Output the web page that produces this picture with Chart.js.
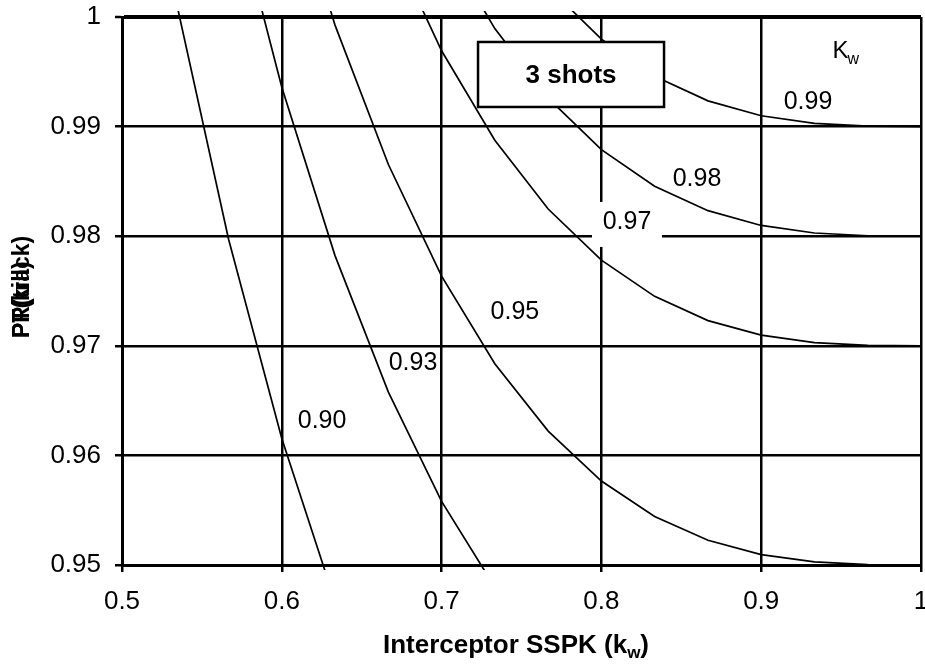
<!DOCTYPE html>
<html>
<head>
<meta charset="utf-8">
<script src="https://cdn.jsdelivr.net/npm/chart.js@4.4.1/dist/chart.umd.min.js"></script>
<style>
  html, body { margin: 0; padding: 0; background: #ffffff; }
  canvas { display: block; }
</style>
</head>
<body>
<canvas id="chart" width="925" height="668"></canvas>
<script>
// Interceptor single-shot kill probability (x axis)
const kwValues = [0.5, 0.5333, 0.5667, 0.6, 0.6333, 0.6667, 0.7, 0.7333, 0.7667, 0.8, 0.8333, 0.8667, 0.9, 0.9333, 0.9667, 1.0];

// Required probability for each K_w contour (3 shots); null = off the chart
const curve090 = [null, 1.00181, 0.97972, 0.96154, 0.94667, null, null, null, null, null, null, null, null, null, null, null];
const curve093 = [null, null, 1.01238, 0.99359, 0.97823, 0.96577, 0.95580, 0.94798, null, null, null, null, null, null, null, null];
const curve095 = [null, null, null, 1.01496, 0.99926, 0.98654, 0.97636, 0.96836, 0.96222, 0.95766, 0.95442, 0.95226, 0.95095, 0.95028, 0.95004, 0.95];
const curve097 = [null, null, null, null, null, 1.00731, 0.99692, 0.98875, 0.98248, 0.97782, 0.97451, 0.97230, 0.97097, 0.97029, 0.97004, 0.97];
const curve098 = [null, null, null, null, null, null, 1.00719, 0.99894, 0.99260, 0.98790, 0.98456, 0.98233, 0.98098, 0.98029, 0.98004, 0.98];
const curve099 = [null, null, null, null, null, null, null, null, 1.00273, 0.99798, 0.99460, 0.99235, 0.99099, 0.99029, 0.99004, 0.99];

const curveLabels = ['0.90', '0.93', '0.95', '0.97', '0.98', '0.99'];

const xTickValues = [0.5, 0.6, 0.7, 0.8, 0.9, 1.0];
const xTickLabels = ['0.5', '0.6', '0.7', '0.8', '0.9', '1'];
const yTickValues = [0.95, 0.96, 0.97, 0.98, 0.99, 1.0];
const yTickLabels = ['0.95', '0.96', '0.97', '0.98', '0.99', '1'];

const FONT = '"Liberation Sans", Arial, Helvetica, sans-serif';

function toPoints(series) {
  const pts = [];
  series.forEach((v, i) => { if (v !== null) pts.push({ x: kwValues[i], y: v }); });
  return pts;
}

const allCurves = [curve090, curve093, curve095, curve097, curve098, curve099];

const datasets = allCurves.map((c, i) => ({
  label: curveLabels[i],
  data: toPoints(c),
  showLine: true,
  borderColor: '#000000',
  borderWidth: 1.7,
  pointRadius: 0,
  fill: false,
  tension: 0,
  clip: { left: 0, top: 6, right: 0, bottom: 5 }
}));

// Curve labels, the "3 shots" box and the axis titles
const annotationPlugin = {
  id: 'contourAnnotations',
  afterDatasetsDraw(chart) {
    const ctx = chart.ctx;
    const xs = chart.scales.x, ys = chart.scales.y;
    const px = v => xs.getPixelForValue(v);
    const py = v => ys.getPixelForValue(v);
    ctx.save();

    // "3 shots" box
    const bx0 = px(0.7228), bx1 = px(0.8392), by0 = py(0.99772), by1 = py(0.99179);
    ctx.fillStyle = '#ffffff';
    ctx.fillRect(bx0, by0, bx1 - bx0, by1 - by0);
    ctx.strokeStyle = '#000000';
    ctx.lineWidth = 2.5;
    ctx.strokeRect(bx0, by0, bx1 - bx0, by1 - by0);
    ctx.fillStyle = '#000000';
    ctx.font = 'bold 26px ' + FONT;
    ctx.textAlign = 'center';
    ctx.textBaseline = 'middle';
    ctx.fillText('3 shots', (bx0 + bx1) / 2, (by0 + by1) / 2 + 1);

    // contour labels
    const labelPos = [
      [0.6252, 0.96314], [0.6821, 0.96843], [0.7459, 0.97308],
      [0.8160, 0.98130], [0.8598, 0.98522], [0.9293, 0.99220]
    ];
    ctx.font = '25px ' + FONT;
    labelPos.forEach((p, i) => {
      const cx = px(p[0]), cy = py(p[1]);
      if (curveLabels[i] === '0.97') {
        ctx.fillStyle = '#ffffff';
        ctx.fillRect(cx - 35, cy - 20, 70, 45);
      }
      ctx.fillStyle = '#000000';
      ctx.fillText(curveLabels[i], cx, cy);
    });

    // K_w heading
    ctx.textAlign = 'left';
    ctx.textBaseline = 'alphabetic';
    ctx.font = '24px ' + FONT;
    const kx = px(0.9446), kyBase = py(0.99630);
    ctx.fillText('K', kx, kyBase);
    const kw = ctx.measureText('K').width;
    ctx.font = '16px ' + FONT;
    ctx.fillText('w', kx + kw - 1, kyBase + 6);
    ctx.restore();
  },
  afterDraw(chart) {
    const ctx = chart.ctx;
    ctx.save();
    ctx.fillStyle = '#000000';
    ctx.textBaseline = 'alphabetic';
    ctx.textAlign = 'left';

    // x axis title with subscript
    const mainPart = 'Interceptor SSPK (k';
    ctx.font = 'bold 26px ' + FONT;
    const w1 = ctx.measureText(mainPart).width;
    const w3 = ctx.measureText(')').width;
    ctx.font = 'bold 17px ' + FONT;
    const w2 = ctx.measureText('w').width;
    const total = w1 + w2 + w3;
    const cx = 516;
    let x = cx - total / 2;
    const base = 653;
    ctx.font = 'bold 26px ' + FONT;
    ctx.fillText(mainPart, x, base);
    ctx.font = 'bold 17px ' + FONT;
    ctx.fillText('w', x + w1, base + 5);
    ctx.font = 'bold 26px ' + FONT;
    ctx.fillText(')', x + w1 + w2, base);

    // y axis title (two overlapping captions)
    ctx.translate(29, 338);
    ctx.rotate(-Math.PI / 2);
    ctx.font = 'bold 23px ' + FONT;
    ctx.fillText('PR(track)', 0, 0);
    ctx.fillText('PT(kill)', 0, 0);
    ctx.restore();
  }
};

new Chart(document.getElementById('chart'), {
  type: 'scatter',
  data: { datasets },
  options: {
    responsive: false,
    animation: false,
    devicePixelRatio: 1,
    layout: { padding: { left: 0, right: 4, top: 17, bottom: 0 } },
    plugins: { legend: { display: false }, tooltip: { enabled: false } },
    scales: {
      x: {
        type: 'linear',
        min: 0.5,
        max: 1.0,
        afterBuildTicks: s => { s.ticks = xTickValues.map(v => ({ value: v })); },
        afterFit: s => { s.height = 103; s.paddingLeft = 0; s.paddingRight = 0; },
        grid: {
          color: '#000000',
          lineWidth: 2.5,
          drawTicks: true,
          tickLength: 7,
          tickColor: '#000000',
          tickWidth: 2.5
        },
        border: { display: true, color: '#000000', width: 3 },
        ticks: {
          color: '#000000',
          font: { family: FONT, size: 26 },
          padding: 14,
          maxRotation: 0,
          autoSkip: false,
          callback: (v, i) => xTickLabels[i]
        }
      },
      y: {
        type: 'linear',
        min: 0.95,
        max: 1.0,
        afterBuildTicks: s => { s.ticks = yTickValues.map(v => ({ value: v })); },
        afterFit: s => { s.width = 122; s.paddingTop = 0; s.paddingBottom = 0; },
        grid: {
          color: '#000000',
          lineWidth: ctx => (ctx.tick && ctx.tick.value === 1 ? 4 : 2.5),
          drawTicks: true,
          tickLength: 7,
          tickColor: '#000000',
          tickWidth: 2.5
        },
        border: { display: true, color: '#000000', width: 3 },
        ticks: {
          color: '#000000',
          font: { family: FONT, size: 26 },
          padding: 14,
          autoSkip: false,
          callback: (v, i) => yTickLabels[i]
        }
      }
    }
  },
  plugins: [annotationPlugin]
});
</script>
</body>
</html>
